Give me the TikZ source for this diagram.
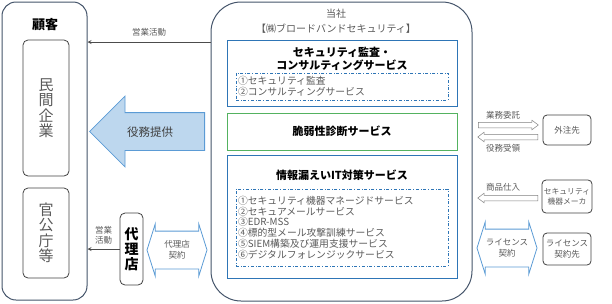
\documentclass[tikz,border=0pt]{standalone}
\usepackage{fontspec}
\setmainfont{Noto Sans CJK JP}
\usepackage{tikz}
\usetikzlibrary{shapes,arrows,positioning,calc}
\definecolor{frame}{RGB}{68,84,106}
\definecolor{svcblue}{RGB}{46,117,182}
\definecolor{svcgreen}{RGB}{84,178,96}
\definecolor{lblue}{RGB}{91,155,213}
\definecolor{lfill}{RGB}{189,215,238}
\definecolor{txtgray}{RGB}{89,89,89}

\begin{document}
\begin{tikzpicture}[
    x=1pt, y=-1pt,
    font=\fontsize{9}{10.8}\selectfont,
    >=stealth,
    outer/.style={rectangle, draw=frame, line width=1pt},
    inbox/.style={rectangle, draw=black!75, line width=0.8pt, rounded corners=5pt, text=txtgray, align=center, inner sep=0pt},
    svc/.style={rectangle, draw=svcblue, line width=1pt, minimum width=230pt, align=center},
    list/.style={rectangle, draw=svcblue, dash dot, line width=0.8pt, align=left, text=txtgray,
        font=\fontsize{9.8}{10.8}\selectfont, inner xsep=2pt, text width=208pt},
    ttl/.style={font=\bfseries\fontsize{11}{13}\selectfont, align=center},
    lbl/.style={text=txtgray, align=center, font=\fontsize{8.5}{10.5}\selectfont, inner sep=1pt},
    arr/.style={->, draw=black!70, line width=0.8pt},
    pipe/.style={single arrow, draw=black!50, line width=0.5pt, minimum height=60pt, inner sep=0pt,
        inner ysep=2.5pt, single arrow head extend=2pt, single arrow tip angle=74},
    bigarr/.style={single arrow, shape border rotate=180, draw=lblue, fill=lfill, line width=0.8pt,
        minimum height=115pt, inner sep=0pt, inner ysep=18.5pt, single arrow head extend=16.5pt,
        single arrow tip angle=90},
    dblarr/.style={double arrow, draw=lblue, line width=0.8pt, fill=white, minimum height=60pt,
        inner xsep=0pt, inner ysep=18.5pt, double arrow head extend=7pt, double arrow tip angle=145},
    partner/.style={rectangle, draw=black!75, line width=0.8pt, rounded corners=4pt, minimum width=48pt,
        text=txtgray, align=center, font=\fontsize{8.5}{10.5}\selectfont, inner sep=0pt}
]
\useasboundingbox (0,0) rectangle (612,303);
% Customers (left)
\node[outer, rounded corners=14pt, minimum width=85pt, minimum height=298pt] (cust) at (44.5,151) {};
\node[font=\bfseries\fontsize{13}{13}\selectfont] (custname) at (45,25) {顧客};
\node[inbox, minimum width=46pt, minimum height=136pt, font=\fontsize{15}{15.5}\selectfont] (private) at (46,108)
     {民\\間\\企\\業};
\node[inbox, minimum width=46pt, minimum height=90pt, font=\fontsize{15}{15.5}\selectfont] (public) at (46,233)
     {官\\公\\庁\\等};
\node[inbox, minimum width=23pt, minimum height=72pt, text=black, font=\bfseries\fontsize{14}{15}\selectfont] (agent) at (131.5,249)
     {代\\理\\店};
% Company (center)
\node[outer, rounded corners=30pt, minimum width=261pt, minimum height=299pt] (corp) at (341.5,151.5) {};
\node[text=txtgray, font=\fontsize{10}{15}\selectfont, align=center] (corpname) at (336,21.5)
     {当社\\【㈱ブロードバンドセキュリティ】};
\node[svc, minimum height=66pt] (audit) at (342,73) {};
\node[ttl] (auditttl) at (342,58.5) {セキュリティ監査・\\コンサルティングサービス};
\node[list, minimum height=27pt] (auditls) at (342,86.5)
     {①セキュリティ監査\\②コンサルティングサービス};
\node[svc, draw=svcgreen, minimum height=37pt, ttl] (vuln) at (342,131.5) {脆弱性診断サービス};
\node[svc, minimum height=123pt] (leak) at (342,216.5) {};
\node[ttl] (leakttl) at (342,175) {情報漏えいIT対策サービス};
\node[list, minimum height=77pt] (leakls) at (342,227.5)
     {①セキュリティ機器マネージドサービス\\②セキュアメールサービス\\③EDR-MSS\\④標的型メール攻撃訓練サービス\\⑤SIEM構築及び運用支援サービス\\⑥デジタルフォレンジックサービス};
% Block arrows
\node[bigarr, anchor=tail] (serve) at (205,131.5) {};
\node[text=black!75, font=\fontsize{11.5}{12}\selectfont] (servetxt) at (150,132) {役務提供};
\node[dblarr] (agentc) at (177,250) {};
\node[lbl] (agentctxt) at (agentc) {代理店\\契約};
\node[dblarr] (licc) at (507,248) {};
\node[lbl] (licctxt) at (licc) {ライセンス\\契約};
\node[pipe, anchor=tail] (order) at (478,125) {};
\node[pipe, shape border rotate=180, anchor=tail] (receive) at (538,137) {};
\node[pipe, shape border rotate=180, anchor=tail] (buy) at (538,198) {};
\node[lbl] (ordertxt) at (503,115) {業務委託};
\node[lbl] (receivetxt) at (503,148) {役務受領};
\node[lbl] (buytxt) at (503,187) {商品仕入};
% Partners (right)
\node[partner, minimum height=30pt] (vendor) at (567,130) {外注先};
\node[partner, minimum width=50pt, minimum height=33pt, font=\fontsize{7.8}{10}\selectfont] (maker) at (567,196.5) {セキュリティ\\機器メーカ};
\node[partner, minimum height=32pt] (licensor) at (567,249) {ライセンス\\契約先};
% Edges
\draw[arr] (corp.west |- 0,42) -- node[lbl, above=4pt] {営業活動} (cust.east |- 0,42);
\draw[arr] (agent.west) -- node[lbl, above=3pt] {営業\\活動} (agent.west -| cust.east);
\end{tikzpicture}
\end{document}
